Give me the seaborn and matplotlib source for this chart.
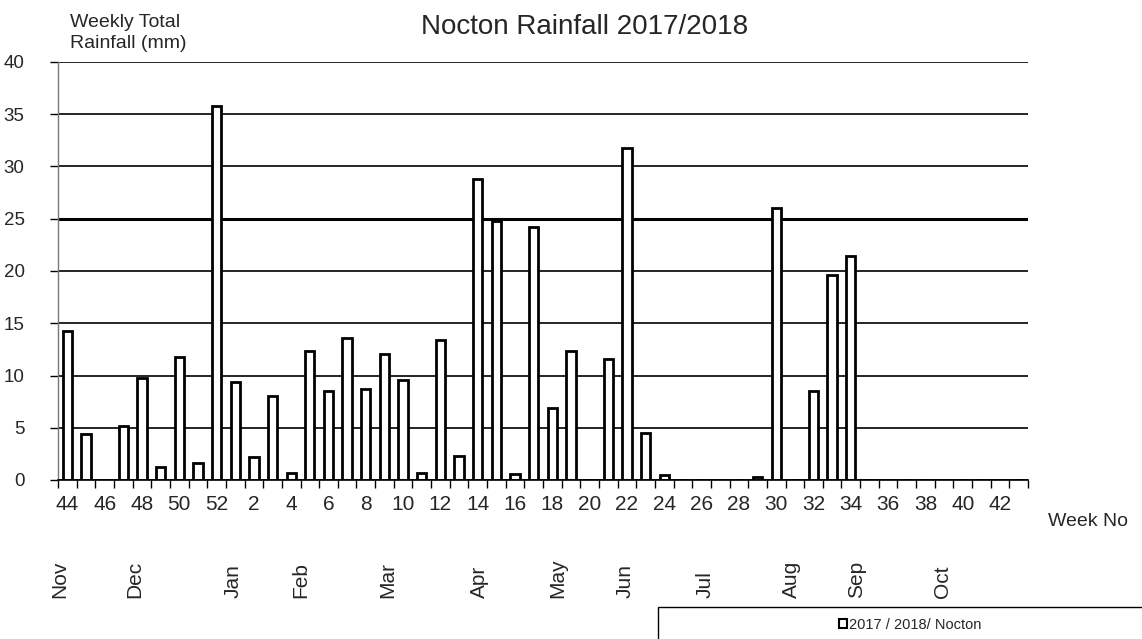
import matplotlib
matplotlib.use("Agg")
import matplotlib.pyplot as plt
from matplotlib.patches import Rectangle
import seaborn as sns
import pandas as pd
import numpy as np

# ---- data ----
weeks = [str(w) for w in list(range(44, 53)) + list(range(1, 44))]
rainfall = [14.3, 4.4, 0.0, 5.2, 9.8, 1.2, 11.8, 1.6, 35.8,
            9.4, 2.2, 8.0, 0.7, 12.3, 8.5, 13.6, 8.7, 12.1, 9.6,
            0.7, 13.4, 2.3, 28.8, 24.8, 0.6, 24.2, 6.9, 12.3, 0.0,
            11.6, 31.8, 4.5, 0.45, 0.0, 0.0, 0.0, 0.0, 0.25, 26.0,
            0.0, 8.5, 19.6, 21.4, 0.0, 0.0, 0.0, 0.0, 0.0, 0.0,
            0.0, 0.0, 0.0]
tick_labels = weeks[::2]
months = ["Nov", "Dec", "Jan", "Feb", "Mar", "Apr", "May", "Jun",
          "Jul", "Aug", "Sep", "Oct"]
month_pos = [-0.4, 3.6, 8.9, 12.5, 17.2, 22.1, 26.3, 29.9, 34.2, 38.8, 42.3, 46.9]
series_name = "2017 / 2018/ Nocton"
y_ticks = [0, 5, 10, 15, 20, 25, 30, 35, 40]

df = pd.DataFrame({"week": weeks, "rain": rainfall})

sns.set_theme(style="white")
plt.rcParams["font.family"] = ["Liberation Sans", "DejaVu Sans"]

W, H = 1142, 639
fig = plt.figure(figsize=(W / 100, H / 100), dpi=100)
ax = fig.add_axes([58 / W, 1 - 480 / H, (1028 - 58) / W, (480 - 62) / H])

sns.barplot(data=df, x="week", y="rain", order=weeks, ax=ax,
            color="white", edgecolor="black", linewidth=2, width=0.5,
            label=series_name, saturation=1)
if ax.get_legend() is not None:
    ax.get_legend().remove()

ax.set_xlim(-0.5, len(weeks) - 0.5)
ax.set_ylim(0, 40)
ax.set_yticks(y_ticks)
ax.set_yticklabels([str(v) for v in y_ticks], fontsize=13.5)
ax.set_xticks(np.arange(0, len(weeks), 2))
ax.set_xticklabels(tick_labels, fontsize=15)
ax.set_xticks(np.arange(-0.5, len(weeks), 1), minor=True)
ax.tick_params(axis="x", which="major", length=0, pad=11)
ax.tick_params(axis="x", which="minor", length=6, width=1, color="black", direction="out", bottom=True)
ax.tick_params(axis="y", length=6, width=1, color="black", direction="out", left=True, pad=18)
for lab in ax.get_yticklabels():
    lab.set_horizontalalignment("right")

ax.yaxis.grid(True, color="black", linewidth=1.2)
ax.set_axisbelow(True)
for v, gl in zip(y_ticks, ax.get_ygridlines()):
    if v == 25:
        gl.set_linewidth(2.2)

for s in ["top", "right"]:
    ax.spines[s].set_visible(False)
ax.spines["left"].set_color("#777777")
ax.spines["left"].set_linewidth(1)
ax.spines["bottom"].set_color("black")
ax.spines["bottom"].set_linewidth(1.2)
ax.set_xlabel("")
ax.set_ylabel("")

# Title and labels
fig.text(585 / W, 1 - 27 / H, "Nocton Rainfall 2017/2018", ha="center", va="center", fontsize=20)
fig.text(70 / W, 1 - 33 / H, "Weekly Total\nRainfall (mm)", ha="left", va="center",
         fontsize=14, linespacing=1.25)
fig.text(1088 / W, 1 - 522 / H, "Week No", ha="center", va="center", fontsize=14)

# Month labels
trans = matplotlib.transforms.blended_transform_factory(ax.transData, fig.transFigure)
for m, p in zip(months, month_pos):
    ax.text(p, 1 - 598 / H, m, rotation=90, ha="center", va="bottom",
            fontsize=15, transform=trans, clip_on=False)

# Legend box
fig.patches.append(Rectangle((658 / W, -0.05), 0.5, 0.05 + 32 / H, transform=fig.transFigure,
                             facecolor="white", edgecolor="black", linewidth=1, zorder=-1))
leg = fig.legend(handles=ax.patches[:1], labels=[series_name], loc="center",
                 bbox_to_anchor=(910 / W, 1 - 625 / H), bbox_transform=fig.transFigure,
                 frameon=False, fontsize=10.5, handlelength=0.55, handleheight=0.55,
                 handletextpad=0.15, borderpad=0)
for h in leg.legend_handles:
    h.set_linewidth(1.5)

fig.savefig("out.png", dpi=100)
